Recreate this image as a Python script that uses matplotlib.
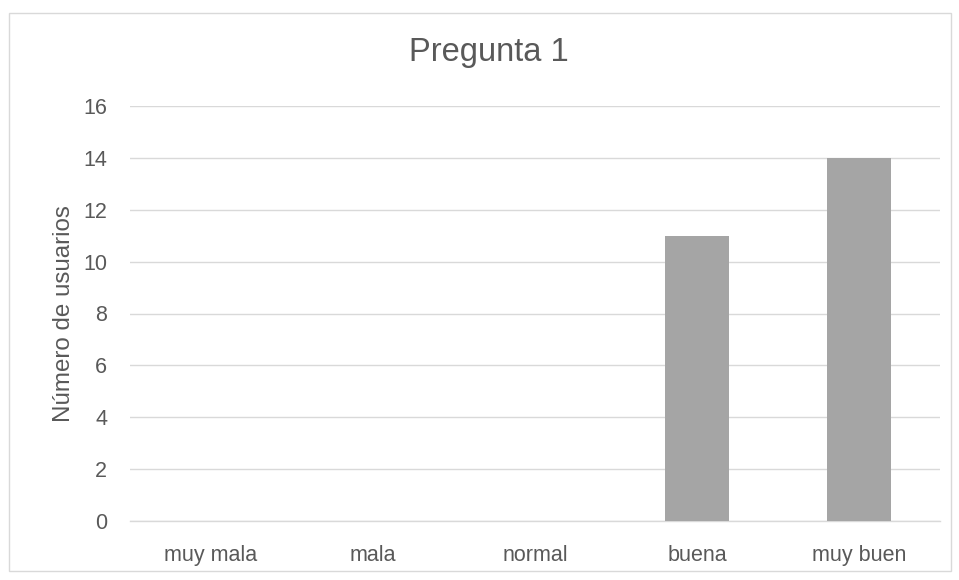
import matplotlib
matplotlib.use("Agg")
import matplotlib.pyplot as plt
from matplotlib.patches import Rectangle

categories = ["muy mala", "mala", "normal", "buena", "muy buen"]
counts = [0, 0, 0, 11, 14]
yticks = [0, 2, 4, 6, 8, 10, 12, 14, 16]

text_color = "#595959"
grid_color = "#d9d9d9"
bar_color = "#a5a5a5"

plt.rcParams["font.family"] = ["Liberation Sans", "DejaVu Sans"]

W, H = 959, 580
fig = plt.figure(figsize=(W / 100, H / 100), dpi=100)
fig.patch.set_facecolor("white")

# chart-area frame
fig.add_artist(Rectangle((9 / W, 1 - 571 / H), (951 - 9) / W, (571 - 13) / H,
                         transform=fig.transFigure, fill=False,
                         edgecolor="#d9d9d9", linewidth=1))

ax = fig.add_axes([130 / W, 1 - 521 / H, (940 - 130) / W, (521 - 106) / H])
x = range(len(categories))
ax.bar(x, counts, width=0.395, color=bar_color, zorder=3)

ax.set_xlim(-0.5, len(categories) - 0.5)
ax.set_ylim(0, 16)
ax.set_yticks(yticks)
ax.set_yticklabels([str(v) for v in yticks])
ax.set_xticks(list(x))
ax.set_xticklabels(categories)

ax.yaxis.grid(True, color=grid_color, linewidth=1, zorder=0)
for side in ["top", "right", "left"]:
    ax.spines[side].set_visible(False)
ax.spines["bottom"].set_color(grid_color)
ax.spines["bottom"].set_linewidth(1)
ax.tick_params(axis="both", length=0, colors=text_color, labelsize=15.5)
ax.tick_params(axis="y", pad=16.5)
ax.tick_params(axis="x", pad=17)

ax.set_ylabel("Número de usuarios", color=text_color, fontsize=17.4, labelpad=6)
fig.text(489 / W, 1 - 53 / H, "Pregunta 1", ha="center", va="center",
         color=text_color, fontsize=23.5)

fig.savefig("out.png", dpi=100, facecolor="white")
